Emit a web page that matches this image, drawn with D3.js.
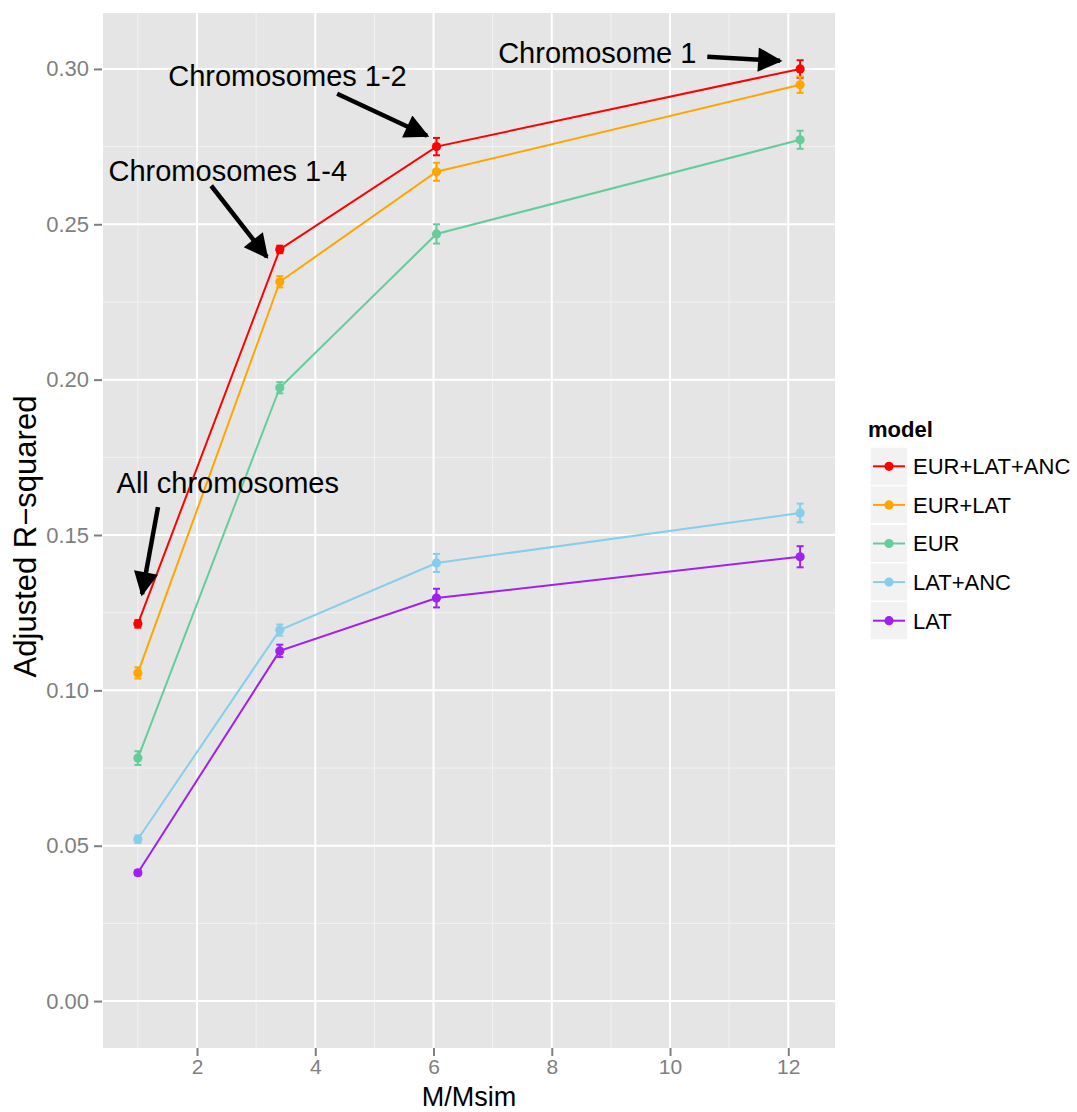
<!DOCTYPE html>
<html lang="en">
<head>
<meta charset="utf-8">
<title>Adjusted R-squared by M/Msim</title>
<script src="https://cdn.jsdelivr.net/npm/d3@7"></script>
<style>
  body { margin: 0; background: #fff; }
  svg { display: block; font-family: "Liberation Sans", Arial, Helvetica, sans-serif; }
</style>
</head>
<body>
<script>
// data
var xValues = [1, 3.4, 6.05, 12.2];
var models = ["EUR+LAT+ANC", "EUR+LAT", "EUR", "LAT+ANC", "LAT"];
var modelColors = ["#FF0000", "#FFA500", "#66CC99", "#87CEEB", "#A020F0"];

var r2EurLatAnc = [0.1214, 0.2419, 0.2750, 0.3000];
var r2EurLat    = [0.1056, 0.2315, 0.2669, 0.2949];
var r2Eur       = [0.0782, 0.1974, 0.2469, 0.2772];
var r2LatAnc    = [0.0521, 0.1194, 0.1410, 0.1571];
var r2Lat       = [0.0413, 0.1127, 0.1297, 0.1430];

var seEurLatAnc = [0.0012, 0.0012, 0.0028, 0.0028];
var seEurLat    = [0.0018, 0.0018, 0.0029, 0.0026];
var seEur       = [0.0022, 0.0018, 0.0031, 0.0029];
var seLatAnc    = [0.0012, 0.0018, 0.0029, 0.0030];
var seLat       = [0.0008, 0.0020, 0.0030, 0.0034];

var xTicks = [2, 4, 6, 8, 10, 12];
var xMinor = [1, 3, 5, 7, 9, 11];
var yTicks = [0, 0.05, 0.10, 0.15, 0.20, 0.25, 0.30];
var yMinor = [0.025, 0.075, 0.125, 0.175, 0.225, 0.275];

// annotations in data units: text centre, arrow tail, arrow tip
var noteLabels = ["Chromosome 1", "Chromosomes 1-2", "Chromosomes 1-4", "All chromosomes"];
var noteX  = [8.77, 3.53, 2.52, 2.52];
var noteY  = [0.3054, 0.2980, 0.2672, 0.1668];
var tailX  = [10.63, 4.37, 2.24, 1.34];
var tailY  = [0.3039, 0.2920, 0.2624, 0.1590];
var tipX   = [11.86, 5.89, 3.18, 1.07];
var tipY   = [0.3026, 0.2785, 0.2395, 0.1310];

var seriesValues = [r2EurLatAnc, r2EurLat, r2Eur, r2LatAnc, r2Lat];
var seriesSe = [seEurLatAnc, seEurLat, seEur, seLatAnc, seLat];

var series = models.map(function (m, i) {
  return {
    name: m,
    color: modelColors[i],
    points: xValues.map(function (x, j) {
      return { x: x, y: seriesValues[i][j], se: seriesSe[i][j] };
    })
  };
});

var w = 1077, h = 1112;
var panel = { left: 103, right: 835, top: 13, bottom: 1048 };

var xScale = d3.scaleLinear().domain([0.41, 12.79]).range([panel.left, panel.right]);
var yScale = d3.scaleLinear().domain([-0.0151, 0.318]).range([panel.bottom, panel.top]);

var svg = d3.select("body").append("svg")
  .attr("width", w)
  .attr("height", h);

// panel background
svg.append("rect")
  .attr("x", panel.left)
  .attr("y", panel.top)
  .attr("width", panel.right - panel.left)
  .attr("height", panel.bottom - panel.top)
  .attr("fill", "#E5E5E5");

// grid lines
var grid = svg.append("g");
grid.selectAll(".xminor").data(xMinor).enter().append("line")
  .attr("x1", function (d) { return xScale(d); })
  .attr("x2", function (d) { return xScale(d); })
  .attr("y1", panel.top).attr("y2", panel.bottom)
  .attr("stroke", "#F2F2F2").attr("stroke-width", 1);
grid.selectAll(".yminor").data(yMinor).enter().append("line")
  .attr("y1", function (d) { return yScale(d); })
  .attr("y2", function (d) { return yScale(d); })
  .attr("x1", panel.left).attr("x2", panel.right)
  .attr("stroke", "#F2F2F2").attr("stroke-width", 1);
grid.selectAll(".xmajor").data(xTicks).enter().append("line")
  .attr("x1", function (d) { return xScale(d); })
  .attr("x2", function (d) { return xScale(d); })
  .attr("y1", panel.top).attr("y2", panel.bottom)
  .attr("stroke", "#FFFFFF").attr("stroke-width", 2);
grid.selectAll(".ymajor").data(yTicks).enter().append("line")
  .attr("y1", function (d) { return yScale(d); })
  .attr("y2", function (d) { return yScale(d); })
  .attr("x1", panel.left).attr("x2", panel.right)
  .attr("stroke", "#FFFFFF").attr("stroke-width", 2);

// axes
var xAxis = d3.axisBottom(xScale).tickValues(xTicks).tickSize(8).tickPadding(3)
  .tickFormat(d3.format("d"));
var yAxis = d3.axisLeft(yScale).tickValues(yTicks).tickSize(8).tickPadding(5)
  .tickFormat(d3.format(".2f"));

var gx = svg.append("g").attr("transform", "translate(0," + panel.bottom + ")").call(xAxis);
var gy = svg.append("g").attr("transform", "translate(" + (panel.left - 1) + ",0)").call(yAxis);
[gx, gy].forEach(function (g) {
  g.select(".domain").remove();
  g.selectAll(".tick line").attr("stroke", "#7F7F7F").attr("stroke-width", 2);
  g.selectAll(".tick text")
    .attr("fill", "#7F7F7F")
    .attr("font-size", "22px")
    .attr("font-family", "Liberation Sans, Arial, sans-serif");
});
gx.selectAll(".tick text").attr("font-size", "21px");

// axis titles
svg.append("text")
  .attr("x", (panel.left + panel.right) / 2)
  .attr("y", 1106)
  .attr("text-anchor", "middle")
  .attr("font-size", "27px")
  .attr("fill", "#000")
  .text("M/Msim");

svg.append("text")
  .attr("transform", "translate(36," + ((panel.top + panel.bottom) / 2 + 6) + ") rotate(-90)")
  .attr("text-anchor", "middle")
  .attr("font-size", "31px")
  .attr("fill", "#000")
  .text("Adjusted R\u2212squared");

// series
var line = d3.line()
  .x(function (d) { return xScale(d.x); })
  .y(function (d) { return yScale(d.y); });

var capHalf = 3.5;
var sg = svg.selectAll(".series").data(series).enter().append("g");

sg.append("path")
  .attr("d", function (d) { return line(d.points); })
  .attr("fill", "none")
  .attr("stroke", function (d) { return d.color; })
  .attr("stroke-width", 2);

sg.each(function (s) {
  var g = d3.select(this);
  var eb = g.selectAll(".eb").data(s.points).enter().append("g");
  eb.append("line")
    .attr("x1", function (d) { return xScale(d.x); })
    .attr("x2", function (d) { return xScale(d.x); })
    .attr("y1", function (d) { return yScale(d.y - d.se); })
    .attr("y2", function (d) { return yScale(d.y + d.se); })
    .attr("stroke", s.color).attr("stroke-width", 2);
  eb.append("line")
    .attr("x1", function (d) { return xScale(d.x) - capHalf; })
    .attr("x2", function (d) { return xScale(d.x) + capHalf; })
    .attr("y1", function (d) { return yScale(d.y - d.se); })
    .attr("y2", function (d) { return yScale(d.y - d.se); })
    .attr("stroke", s.color).attr("stroke-width", 2);
  eb.append("line")
    .attr("x1", function (d) { return xScale(d.x) - capHalf; })
    .attr("x2", function (d) { return xScale(d.x) + capHalf; })
    .attr("y1", function (d) { return yScale(d.y + d.se); })
    .attr("y2", function (d) { return yScale(d.y + d.se); })
    .attr("stroke", s.color).attr("stroke-width", 2);
  eb.append("circle")
    .attr("cx", function (d) { return xScale(d.x); })
    .attr("cy", function (d) { return yScale(d.y); })
    .attr("r", 4.6)
    .attr("fill", s.color);
});

// annotations with arrows
var defs = svg.append("defs");
defs.append("marker")
  .attr("id", "arrowhead")
  .attr("viewBox", "0 0 10 10")
  .attr("refX", 9).attr("refY", 5)
  .attr("markerWidth", 6.2).attr("markerHeight", 5.4)
  .attr("markerUnits", "strokeWidth")
  .attr("orient", "auto")
  .append("path")
  .attr("d", "M0,0 L10,5 L0,10 Z")
  .attr("fill", "#000");

var notes = noteLabels.map(function (t, i) {
  return { label: t, x: noteX[i], y: noteY[i], x0: tailX[i], y0: tailY[i], x1: tipX[i], y1: tipY[i] };
});

svg.selectAll(".note").data(notes).enter().append("text")
  .attr("x", function (d) { return xScale(d.x); })
  .attr("y", function (d) { return yScale(d.y); })
  .attr("dy", "0.36em")
  .attr("text-anchor", "middle")
  .attr("font-size", "29px")
  .attr("fill", "#000")
  .text(function (d) { return d.label; });

svg.selectAll(".arrow").data(notes).enter().append("line")
  .attr("x1", function (d) { return xScale(d.x0); })
  .attr("y1", function (d) { return yScale(d.y0); })
  .attr("x2", function (d) { return xScale(d.x1); })
  .attr("y2", function (d) { return yScale(d.y1); })
  .attr("stroke", "#000")
  .attr("stroke-width", 4.5)
  .attr("marker-end", "url(#arrowhead)");

// legend
var legend = svg.append("g").attr("transform", "translate(868,0)");
legend.append("text")
  .attr("x", 0).attr("y", 437)
  .attr("font-size", "22px")
  .attr("font-weight", "bold")
  .attr("fill", "#000")
  .text("model");

var keyH = 38.6, keyW = 38, keyTop = 447;
var items = legend.selectAll(".item").data(series).enter().append("g")
  .attr("transform", function (d, i) { return "translate(2," + (keyTop + i * keyH) + ")"; });
items.append("rect")
  .attr("width", keyW).attr("height", keyH)
  .attr("fill", "#F2F2F2")
  .attr("stroke", "#FFFFFF").attr("stroke-width", 1.5);
items.append("line")
  .attr("x1", 3).attr("x2", keyW - 3)
  .attr("y1", keyH / 2).attr("y2", keyH / 2)
  .attr("stroke", function (d) { return d.color; })
  .attr("stroke-width", 2);
items.append("circle")
  .attr("cx", keyW / 2).attr("cy", keyH / 2).attr("r", 4.6)
  .attr("fill", function (d) { return d.color; });
items.append("text")
  .attr("x", keyW + 5).attr("y", keyH / 2)
  .attr("dy", "0.36em")
  .attr("font-size", "22px")
  .attr("fill", "#000")
  .text(function (d) { return d.name; });
</script>
</body>
</html>
